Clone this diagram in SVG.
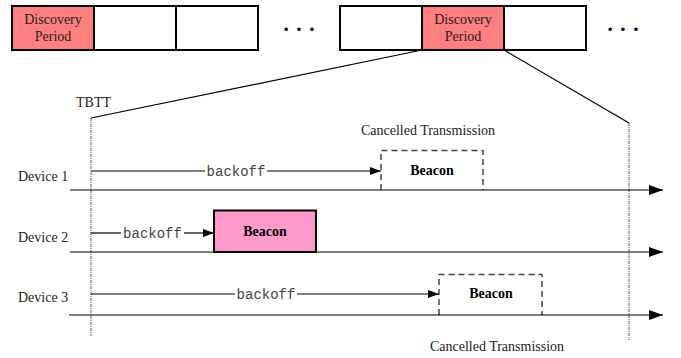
<svg xmlns="http://www.w3.org/2000/svg" width="681" height="358" viewBox="0 0 681 358">
<defs>
<marker id="big" markerWidth="14" markerHeight="10" refX="14" refY="5" orient="auto" markerUnits="userSpaceOnUse"><path d="M0,0 L14,5 L0,10 Z" fill="#000"/></marker>
<marker id="small" markerWidth="11" markerHeight="8" refX="11" refY="4" orient="auto" markerUnits="userSpaceOnUse"><path d="M0,0 L11,4 L0,8 Z" fill="#000"/></marker>
</defs>
<style>
.cell{fill:#fff;stroke:#000;stroke-width:2}
.disc{fill:#ff7f7f;stroke:#000;stroke-width:2}
.serif{font-family:"Liberation Serif","Times New Roman",serif;font-size:14px;fill:#222}
.mono{font-family:"Liberation Mono","Courier New",monospace;font-size:14px;fill:#444}
.bold{font-family:"Liberation Serif","Times New Roman",serif;font-size:14px;font-weight:bold;fill:#000}
.line{stroke:#000;stroke-width:1.2;fill:none}
.dash{stroke:#444;stroke-width:1.5;fill:none;stroke-dasharray:6,4}
.dot{stroke:#555;stroke-width:1;fill:none;stroke-dasharray:3,1,1,1}
.dots{font-family:"Liberation Serif",serif;font-size:22px;font-weight:bold;fill:#000}
</style>
<g id="frame-left">
<rect class="disc" x="12" y="6" width="82" height="44"/>
<rect class="cell" x="94" y="6" width="82" height="44"/>
<rect class="cell" x="176" y="6" width="82" height="44"/>
<text class="serif" x="53" y="24" text-anchor="middle">Discovery</text>
<text class="serif" x="53" y="41" text-anchor="middle">Period</text>
</g>
<text class="dots" x="299" y="36" text-anchor="middle">· · ·</text>
<g id="frame-right">
<rect class="cell" x="340" y="6" width="82" height="44"/>
<rect class="disc" x="422" y="6" width="82" height="44"/>
<rect class="cell" x="504" y="6" width="82" height="44"/>
<text class="serif" x="463" y="24" text-anchor="middle">Discovery</text>
<text class="serif" x="463" y="41" text-anchor="middle">Period</text>
</g>
<text class="dots" x="623" y="36" text-anchor="middle">· · ·</text>
<g id="zoom-lines">
<line class="line" x1="422" y1="50" x2="91" y2="118"/>
<line class="line" x1="504" y1="50" x2="629" y2="123"/>
<line class="dot" x1="91" y1="118" x2="91" y2="336"/>
<line class="dot" x1="629" y1="123" x2="629" y2="340"/>
</g>
<text class="serif" x="76" y="107">TBTT</text>
<g id="device1">
<text class="serif" x="18" y="181">Device 1</text>
<path class="dash" d="M381,190 V150.5 H483 V190"/>
<text class="bold" x="432" y="175" text-anchor="middle">Beacon</text>
<text class="serif" x="428" y="135" text-anchor="middle">Cancelled Transmission</text>
</g>
<g id="device2">
<text class="serif" x="18" y="242">Device 2</text>
<rect x="214" y="210.5" width="102" height="41.5" fill="#ff99cc" stroke="#000" stroke-width="2"/>
<text class="bold" x="265" y="236" text-anchor="middle">Beacon</text>
</g>
<g id="device3">
<text class="serif" x="18" y="302">Device 3</text>
<path class="dash" d="M439,315 V274.5 H542 V315"/>
<text class="bold" x="491" y="298" text-anchor="middle">Beacon</text>
<text class="serif" x="497" y="351" text-anchor="middle">Cancelled Transmission</text>
</g>
<g id="connectors">
<line class="line" x1="70" y1="190" x2="663" y2="190" marker-end="url(#big)"/>
<line class="line" x1="70" y1="252" x2="663" y2="252" marker-end="url(#big)"/>
<line class="line" x1="69" y1="315" x2="663" y2="315" marker-end="url(#big)"/>
<line class="line" x1="91" y1="171" x2="205" y2="171"/>
<line class="line" x1="267" y1="171" x2="381" y2="171" marker-end="url(#small)"/>
<line class="line" x1="91" y1="233" x2="121" y2="233"/>
<line class="line" x1="184" y1="233" x2="214" y2="233" marker-end="url(#small)"/>
<line class="line" x1="91" y1="294" x2="235" y2="294"/>
<line class="line" x1="297" y1="294" x2="439" y2="294" marker-end="url(#small)"/>
<text class="mono" x="236" y="176" text-anchor="middle">backoff</text>
<text class="mono" x="152.5" y="238" text-anchor="middle">backoff</text>
<text class="mono" x="266" y="299" text-anchor="middle">backoff</text>
</g>
</svg>
